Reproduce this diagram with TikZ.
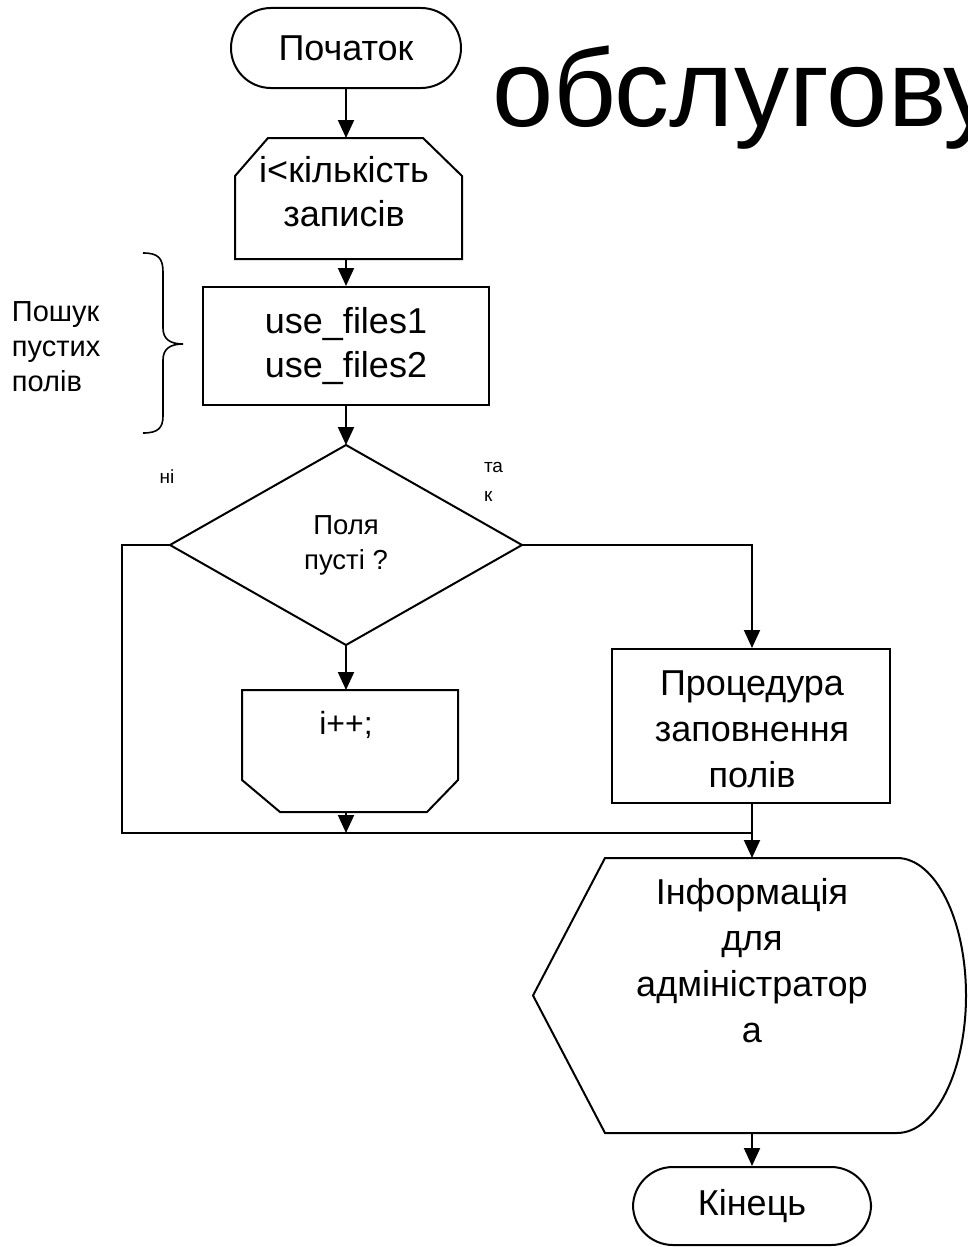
\documentclass[tikz,border=0pt]{standalone}
\usepackage{fontspec}
\setmainfont{Liberation Sans}
\usetikzlibrary{arrows.meta}
\begin{document}
\begin{tikzpicture}[x=1pt,y=-1pt,
  line width=2pt,
  arr/.style={-{Triangle[width=16pt,length=18pt]}},
  anch/.style={draw=none,inner sep=0pt,outer sep=0pt,rectangle},
  txt/.style={inner sep=0pt,align=center,font=\fontsize{36}{44}\selectfont},
  txtw/.style={inner sep=0pt,align=center,font=\fontsize{36}{46}\selectfont},
  smalltxt/.style={inner sep=0pt,align=center,font=\fontsize{27.5}{35}\selectfont},
  tinytxt/.style={inner sep=0pt,align=left,font=\fontsize{19}{29}\selectfont},
  term/.style={draw,rectangle,rounded corners=40pt,inner sep=0pt,
    font=\fontsize{36}{44}\selectfont}]
\useasboundingbox (0,0) rectangle (967,1247);

% title
\node[anchor=base west,inner sep=0pt,font=\fontsize{110}{120}\selectfont] (title) at (491,126) {обслугову};

% start terminator
\node[term,minimum width=230pt,minimum height=80pt] (start) at (346,48) {Початок};

% loop limit
\node[anch,minimum width=227pt,minimum height=121pt] (loop) at (348.5,198.5) {};
\draw (loop.south west) -- (235,176) -- (268,138) -- (423,138) -- (462,176) -- (loop.south east) -- cycle;
\node[txt] (loopt) at (344,192) {i<кількість\\записів};

% process use_files
\node[draw,rectangle,minimum width=286pt,minimum height=118pt,inner sep=0pt,
  font=\fontsize{36}{44}\selectfont,align=center] (uf) at (346,346) {use\_files1\\use\_files2};

% brace and label
\draw[line width=1.6pt] (143,253) .. controls (158,253) and (163,258) .. (163,272) -- (163,328)
  .. controls (163,339) and (170,344) .. (183,344)
  .. controls (170,344) and (163,349) .. (163,360) -- (163,416)
  .. controls (163,428) and (158,433) .. (143,433);
\node[anchor=west,inner sep=0pt,align=left,font=\fontsize{29}{35}\selectfont] (lbl) at (11,347) {Пошук\\пустих\\полів};

% decision
\node[anch,minimum width=352pt,minimum height=200pt] (dec) at (346,545) {};
\draw (dec.north) -- (dec.east) -- (dec.south) -- (dec.west) -- cycle;
\node[smalltxt] (dect) at (346,545) {Поля\\пусті ?};
\node[tinytxt] (no) at (167,477) {ні};
\node[tinytxt,anchor=west] (yes) at (483,482) {та\\к};

% i++ (loop end)
\node[anch,minimum width=216pt,minimum height=122pt] (inc) at (350,751) {};
\draw (inc.north west) -- (inc.north east) -- (458,780) -- (427,812) -- (280,812) -- (242,780) -- cycle;
\node[inner sep=0pt,font=\fontsize{32}{40}\selectfont] (inct) at (346,725) {i++;};

% procedure
\node[draw,rectangle,minimum width=278pt,minimum height=154pt,inner sep=0pt] (proc) at (751,726) {};
\node[txtw] (proct) at (752,729) {Процедура\\заповнення\\полів};

% display
\node[anch,minimum width=434pt,minimum height=275pt] (info) at (750,995.5) {};
\draw (info.west) -- (605,858) -- (897,858) arc[start angle=-90,end angle=90,x radius=69,y radius=137.5] -- (605,1133) -- cycle;
\node[txtw] (infot) at (752,961) {Інформація\\для\\адміністратор\\а};

% end terminator
\node[term,minimum width=238pt,minimum height=78pt] (end) at (752,1206) {Кінець};

% connectors
\coordinate (mL) at (122,833);
\coordinate (mR) at (752,833);
\draw[arr] (start.south) -- (start.south |- loop.north);
\draw[arr] (loop.south -| start.south) -- (start.south |- uf.north);
\draw[arr] (uf.south) -- (dec.north);
\draw[arr] (dec.south) -- (dec.south |- inc.north);
\draw[arr] (dec.east) -| (proc.north -| mR);
\draw (dec.west) -| (mL) -- (mR);
\draw[arr] (dec.south |- inc.south) -- (dec.south |- mL);
\draw[arr] (proc.south -| mR) -- (mR |- info.north);
\draw[arr] (mR |- info.south) -- (mR |- end.north);
\end{tikzpicture}
\end{document}
